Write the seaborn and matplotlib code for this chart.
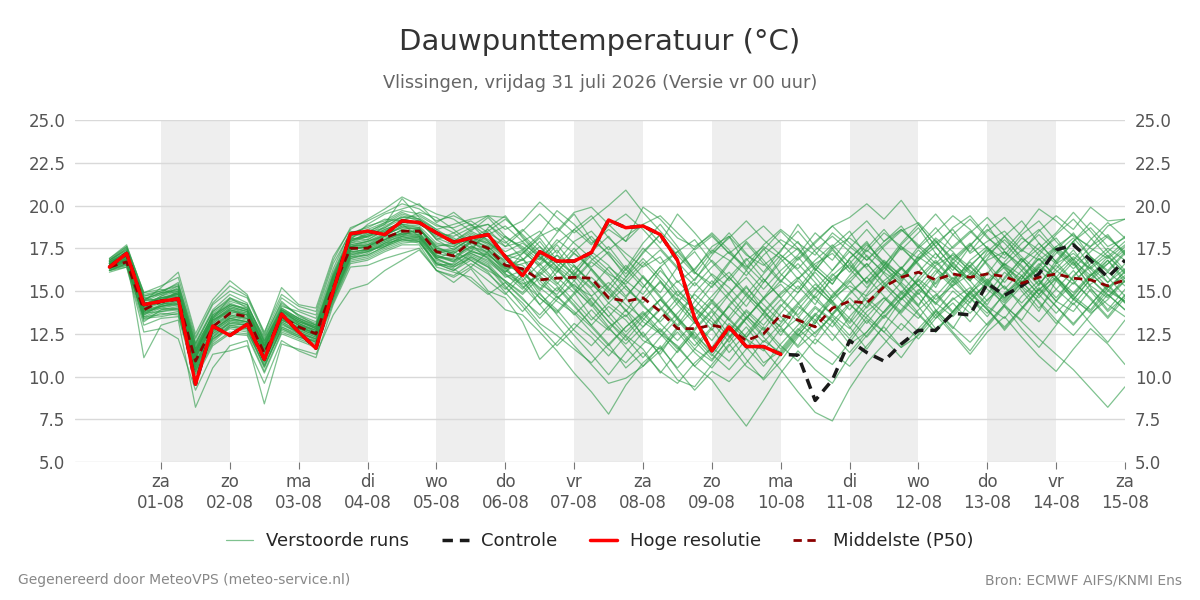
import pandas as pd
import numpy as np
import matplotlib
matplotlib.use("Agg")
import matplotlib.pyplot as plt
from matplotlib.lines import Line2D
import seaborn as sns

# tijdstappen: elke 6 uur vanaf 31-07 06:00 t/m 15-08 00:00
tijden = pd.date_range("2026-07-31 06:00", periods=60, freq="6h")

hoge_resolutie = [16.4, 17.2, 14.2, 14.4, 14.55, 9.55, 12.95, 12.4, 13.05, 11.0,
                  13.65, 12.6, 11.65, 15.0, 18.35, 18.5, 18.3, 19.1, 19.0, 18.4,
                  17.85, 18.1, 18.3, 17.0, 15.9, 17.3, 16.75, 16.75, 17.25, 19.15,
                  18.7, 18.8, 18.3, 16.8, 13.4, 11.5, 12.9, 11.75, 11.75, 11.3]

controle = hoge_resolutie + [11.25, 8.6, 9.8, 12.1, 11.4, 10.9, 11.9, 12.7, 12.7, 13.7,
                             13.6, 15.45, 14.75, 15.3, 16.0, 17.4, 17.7, 16.8, 15.8, 16.8]

middelste = [16.4, 16.7, 13.9, 14.4, 14.5, 10.9, 12.9, 13.7, 13.5, 11.35,
             13.5, 12.9, 12.5, 15.2, 17.5, 17.5, 18.1, 18.5, 18.5, 17.3,
             17.05, 17.9, 17.5, 16.5, 16.3, 15.65, 15.75, 15.8, 15.75, 14.6,
             14.4, 14.6, 13.8, 12.8, 12.8, 13.0, 12.8, 12.1, 12.5, 13.6,
             13.3, 12.9, 14.0, 14.4, 14.3, 15.25, 15.8, 16.1, 15.65, 16.0,
             15.8, 16.0, 15.85, 15.45, 15.8, 16.0, 15.75, 15.65, 15.3, 15.65]

run_01 = [16.8, 17.4, 14.6, 14.8, 15.3, 11.8, 13.5, 14.2, 13.9, 11.9, 14.0, 13.4, 12.9, 16.0, 18.2, 18.6, 19.0, 19.6, 19.2, 18.0,
          18.4, 18.9, 18.2, 17.6, 17.9, 18.5, 17.2, 18.6, 19.4, 18.1, 17.2, 16.4, 17.0, 15.5, 16.3, 17.4, 16.8, 15.9, 17.1, 18.0,
          17.4, 16.2, 17.5, 18.1, 17.3, 18.4, 17.6, 16.9, 17.8, 18.6, 17.2, 17.9, 18.5, 17.4, 16.8, 17.6, 18.3, 17.5, 16.9, 17.7]
run_02 = [16.2, 16.6, 13.2, 13.9, 14.1, 10.4, 12.1, 13.0, 12.8, 10.6, 12.9, 12.4, 12.0, 14.6, 16.9, 17.2, 17.8, 18.0, 18.1, 16.6,
          16.2, 17.0, 16.4, 15.2, 14.3, 13.1, 12.4, 11.6, 10.8, 11.9, 10.5, 11.4, 10.3, 9.6, 10.8, 11.7, 10.9, 12.2, 11.5, 12.8,
          11.7, 12.6, 13.5, 12.4, 13.8, 14.6, 13.7, 14.9, 13.6, 14.5, 15.2, 14.1, 13.4, 14.7, 15.6, 14.4, 13.8, 15.1, 14.2, 13.5]
run_03 = [16.9, 17.6, 14.9, 15.1, 14.8, 11.4, 13.4, 14.6, 14.0, 12.1, 13.9, 13.1, 12.7, 15.8, 17.9, 18.3, 18.9, 20.4, 19.3, 18.6,
          18.0, 17.3, 18.7, 19.4, 18.1, 17.0, 16.3, 15.1, 14.2, 12.9, 13.6, 12.4, 11.3, 12.8, 11.6, 10.9, 12.3, 13.5, 12.7, 14.1,
          15.3, 14.2, 15.9, 16.8, 15.4, 16.3, 17.5, 16.6, 15.2, 16.9, 17.8, 16.5, 15.1, 16.2, 17.3, 18.1, 16.8, 15.9, 16.6, 17.4]
run_04 = [16.4, 16.8, 13.8, 14.0, 13.9, 9.8, 12.4, 13.1, 13.0, 10.9, 13.2, 12.6, 12.2, 14.9, 17.2, 17.5, 17.9, 18.2, 18.7, 17.1,
          16.7, 17.9, 17.2, 16.1, 16.9, 15.4, 14.8, 16.0, 17.1, 16.2, 15.1, 14.3, 15.6, 14.2, 13.1, 14.4, 15.8, 14.7, 13.6, 12.4,
          13.9, 15.1, 14.3, 13.2, 14.8, 16.1, 15.4, 14.1, 15.7, 16.5, 15.3, 14.2, 15.8, 16.9, 15.6, 14.4, 15.9, 16.8, 15.5, 16.3]
run_05 = [16.6, 17.1, 14.2, 14.6, 14.7, 11.2, 13.1, 13.8, 13.6, 11.6, 13.6, 13.0, 12.7, 15.4, 17.7, 17.9, 18.4, 18.9, 18.8, 17.8,
          17.6, 18.2, 17.7, 16.9, 15.7, 14.2, 13.0, 11.8, 10.7, 9.6, 9.9, 10.6, 11.8, 10.4, 9.2, 10.3, 9.7, 10.8, 12.1, 11.4,
          12.6, 13.7, 12.9, 14.2, 13.4, 12.6, 13.9, 15.1, 14.3, 13.5, 14.6, 15.4, 14.1, 13.3, 14.8, 15.7, 14.5, 13.8, 15.0, 14.4]
run_06 = [16.7, 17.3, 14.5, 14.4, 15.0, 11.5, 13.2, 14.0, 13.8, 11.7, 13.8, 13.3, 12.8, 15.6, 18.0, 18.9, 19.5, 19.8, 20.1, 19.0,
          19.6, 18.8, 19.4, 18.6, 19.1, 20.2, 19.3, 18.4, 19.2, 20.0, 20.9, 19.6, 18.5, 17.4, 16.2, 17.6, 18.2, 17.1, 16.5, 17.3,
          18.9, 17.6, 16.8, 18.2, 19.1, 17.9, 18.6, 17.7, 16.9, 18.3, 19.2, 18.1, 17.4, 18.5, 19.8, 19.1, 18.2, 17.6, 18.8, 19.2]
run_07 = [16.3, 16.7, 13.9, 14.1, 14.4, 10.7, 12.6, 13.3, 13.2, 11.2, 13.4, 12.8, 12.4, 15.0, 17.3, 17.4, 17.9, 18.4, 18.3, 17.0,
          16.9, 17.5, 17.1, 16.3, 16.6, 16.9, 16.2, 15.3, 14.7, 15.5, 14.6, 13.2, 12.5, 11.4, 12.7, 13.8, 12.4, 11.0, 9.8, 10.9,
          12.3, 13.1, 14.6, 15.3, 14.7, 15.6, 16.4, 15.3, 16.5, 17.1, 16.2, 15.4, 16.6, 15.9, 14.8, 16.1, 17.0, 16.3, 15.2, 15.9]
run_08 = [16.5, 17.0, 11.1, 13.0, 13.3, 8.2, 10.5, 11.8, 12.1, 8.4, 11.9, 11.6, 11.3, 13.6, 15.1, 15.4, 16.2, 16.8, 17.4, 16.2,
          15.8, 16.4, 15.6, 14.8, 15.9, 14.6, 13.8, 14.9, 13.5, 12.7, 13.9, 12.3, 13.4, 14.6, 13.2, 12.1, 13.5, 14.8, 13.9, 12.6,
          13.4, 14.7, 13.6, 12.8, 14.1, 15.3, 14.2, 13.4, 14.7, 15.8, 14.6, 13.5, 14.9, 15.6, 14.3, 13.1, 14.5, 15.7, 14.8, 13.9]
run_09 = [16.7, 17.2, 14.4, 15.2, 16.1, 12.5, 14.5, 15.6, 14.8, 12.5, 15.2, 14.2, 14.0, 17.0, 18.6, 19.2, 19.8, 20.5, 20.0, 19.5,
          19.2, 18.5, 19.3, 18.2, 17.4, 18.3, 19.7, 18.9, 17.8, 18.6, 17.9, 19.9, 19.2, 18.1, 17.6, 18.3, 17.2, 16.4, 17.7, 18.6,
          17.8, 17.1, 18.4, 17.6, 16.8, 17.9, 18.8, 17.5, 18.4, 19.4, 18.6, 17.5, 16.9, 18.1, 17.4, 16.6, 17.9, 18.7, 17.6, 18.1]
run_10 = [16.1, 16.4, 12.6, 12.8, 12.2, 9.2, 11.3, 11.5, 11.8, 9.6, 12.1, 11.5, 11.1, 14.2, 16.4, 16.5, 16.9, 17.2, 17.5, 16.2,
          15.5, 16.3, 15.0, 14.6, 13.2, 11.0, 12.0, 13.1, 12.3, 11.2, 12.4, 11.6, 10.2, 11.5, 12.6, 11.3, 10.4, 11.6, 12.9, 11.8,
          10.9, 12.2, 11.4, 10.6, 11.8, 12.9, 11.7, 12.4, 13.6, 12.5, 11.3, 12.6, 13.5, 12.3, 11.2, 10.3, 11.6, 12.8, 11.9, 10.7]
run_11 = [16.6, 17.0, 14.3, 14.5, 14.9, 11.3, 13.7, 14.4, 14.1, 12.3, 14.3, 13.6, 13.0, 15.5, 17.6, 17.8, 18.3, 18.7, 18.6, 17.6,
          17.8, 18.4, 17.9, 17.0, 17.3, 16.5, 17.4, 16.1, 15.2, 16.4, 15.6, 14.8, 16.2, 15.1, 14.0, 15.3, 16.1, 14.9, 13.8, 14.9,
          15.8, 14.6, 15.7, 16.5, 15.5, 16.7, 15.9, 16.8, 17.6, 16.4, 15.6, 16.8, 17.3, 16.5, 15.4, 16.6, 17.2, 16.3, 17.1, 16.0]
run_12 = [16.4, 16.9, 13.6, 14.2, 14.6, 10.9, 12.7, 13.5, 13.3, 11.0, 13.3, 12.9, 12.5, 15.3, 17.4, 17.7, 18.0, 18.6, 18.4, 16.9,
          17.3, 16.8, 16.2, 15.6, 14.9, 16.1, 15.3, 14.2, 13.0, 14.1, 13.3, 12.1, 11.6, 12.9, 14.0, 13.2, 12.0, 13.4, 14.6, 15.4,
          14.3, 13.1, 14.8, 15.7, 16.6, 15.4, 14.5, 15.8, 16.8, 15.7, 16.5, 17.4, 16.3, 15.2, 16.4, 17.5, 16.6, 15.3, 14.6, 15.8]
run_13 = [16.5, 16.8, 13.9, 14.3, 14.2, 10.8, 12.8, 13.4, 13.2, 11.5, 13.5, 12.7, 12.3, 15.1, 17.5, 17.6, 18.2, 18.3, 18.6, 17.5,
          17.2, 17.9, 17.6, 16.6, 16.0, 15.2, 14.4, 13.7, 12.6, 11.6, 10.8, 11.9, 12.8, 11.7, 10.6, 9.8, 8.4, 7.1, 8.6, 10.2,
          11.5, 10.4, 9.6, 11.2, 12.4, 13.6, 12.7, 13.9, 14.8, 13.7, 14.9, 15.7, 14.6, 15.5, 16.3, 15.1, 14.2, 15.4, 16.1, 15.3]
run_14 = [16.3, 16.9, 14.1, 14.7, 15.0, 11.6, 13.3, 13.9, 13.7, 11.8, 13.7, 13.2, 12.9, 15.7, 18.1, 18.0, 18.6, 19.0, 18.9, 18.3,
          17.9, 18.6, 18.9, 18.1, 17.6, 16.8, 18.0, 17.2, 16.4, 17.3, 16.2, 17.5, 16.6, 17.3, 18.0, 16.7, 15.6, 16.8, 17.6, 16.9,
          15.7, 16.6, 17.2, 16.1, 17.4, 16.5, 15.8, 17.0, 16.3, 15.5, 16.8, 17.6, 16.4, 15.7, 17.1, 16.2, 15.4, 16.6, 17.5, 16.8]
run_15 = [16.2, 16.5, 13.5, 13.6, 13.8, 10.1, 11.9, 12.6, 12.5, 10.3, 12.6, 12.2, 11.8, 14.4, 16.7, 16.9, 17.4, 17.8, 17.9, 16.4,
          16.1, 15.8, 14.9, 13.9, 13.6, 12.6, 11.5, 10.2, 9.1, 7.8, 9.5, 10.8, 11.7, 10.5, 11.6, 12.8, 11.4, 12.5, 13.7, 12.9,
          14.1, 13.3, 12.1, 13.5, 14.6, 13.7, 14.8, 15.6, 14.5, 15.3, 16.0, 15.1, 14.3, 15.5, 16.4, 15.8, 14.7, 13.9, 15.2, 16.1]
run_16 = [16.8, 17.5, 14.7, 14.9, 15.5, 12.0, 13.9, 14.8, 14.3, 12.0, 14.1, 13.8, 13.4, 16.3, 18.5, 18.1, 18.8, 19.3, 19.4, 18.8,
          18.7, 19.1, 18.4, 17.8, 18.6, 17.6, 16.7, 17.9, 18.5, 17.4, 18.2, 18.9, 17.8, 19.5, 18.4, 17.2, 18.1, 19.1, 18.0, 17.1,
          16.3, 17.4, 18.2, 17.3, 16.4, 17.6, 18.5, 19.0, 17.9, 16.8, 17.7, 18.6, 17.8, 16.7, 17.5, 18.4, 19.6, 18.5, 17.3, 18.2]
run_17 = [16.4, 16.7, 13.7, 13.8, 14.0, 10.5, 12.3, 13.2, 13.1, 10.8, 13.1, 12.5, 12.2, 14.7, 17.0, 17.3, 17.7, 18.1, 18.2, 16.8,
          16.5, 17.2, 16.7, 15.9, 15.4, 15.9, 16.8, 16.0, 15.1, 13.8, 12.6, 13.6, 14.5, 13.5, 12.3, 11.2, 12.6, 13.8, 12.8, 11.6,
          12.8, 11.9, 13.2, 14.3, 13.1, 14.4, 15.5, 14.6, 13.4, 14.6, 13.7, 14.8, 16.1, 15.2, 14.0, 15.1, 16.2, 15.0, 13.8, 14.7]
run_18 = [16.9, 17.7, 14.8, 15.0, 15.4, 12.2, 14.2, 15.0, 14.6, 12.4, 14.6, 13.9, 13.6, 16.6, 18.4, 18.7, 19.2, 19.1, 19.6, 19.3,
          18.6, 17.8, 18.5, 19.2, 18.3, 17.3, 16.4, 15.6, 16.7, 15.9, 14.7, 15.8, 14.6, 13.4, 14.9, 16.0, 15.2, 14.1, 15.5, 16.7,
          17.5, 16.3, 15.4, 16.9, 17.8, 16.6, 15.7, 16.9, 18.1, 17.3, 16.1, 15.3, 16.7, 17.8, 18.6, 17.4, 16.5, 17.6, 18.3, 17.1]
run_19 = [16.6, 17.2, 14.4, 14.6, 14.8, 11.1, 13.0, 13.7, 13.5, 11.3, 13.6, 13.1, 12.6, 15.4, 17.6, 17.7, 18.3, 18.8, 18.7, 17.4,
          17.0, 17.6, 17.3, 16.4, 16.2, 14.8, 13.9, 12.7, 11.8, 12.9, 11.7, 10.6, 11.5, 12.6, 11.4, 10.5, 11.8, 12.9, 11.6, 10.4,
          9.1, 7.9, 7.4, 9.3, 10.8, 11.9, 13.1, 12.2, 13.4, 14.3, 13.2, 14.5, 15.3, 14.1, 13.2, 14.4, 15.5, 14.6, 13.5, 14.8]
run_20 = [16.5, 16.9, 14.0, 14.5, 14.7, 11.0, 12.9, 13.6, 13.4, 11.5, 13.4, 12.9, 12.5, 15.2, 17.6, 17.5, 18.0, 18.6, 18.4, 17.2,
          17.4, 18.1, 17.8, 17.1, 16.8, 17.9, 16.6, 15.7, 16.8, 17.6, 16.3, 15.2, 16.4, 17.3, 16.1, 15.4, 16.7, 17.8, 16.6, 15.5,
          16.9, 17.9, 18.8, 19.3, 20.1, 19.2, 20.3, 18.9, 17.6, 18.7, 19.4, 18.2, 17.1, 18.3, 19.1, 17.9, 16.8, 18.0, 19.0, 18.1]
run_21 = [16.7, 17.1, 14.3, 14.2, 14.5, 11.3, 13.2, 13.9, 13.6, 11.5, 13.3, 12.8, 12.6, 15.3, 17.8, 18.2, 18.4, 18.9, 18.2, 17.0,
          16.8, 17.3, 17.0, 16.0, 15.1, 16.2, 17.1, 16.4, 15.5, 14.3, 13.5, 14.6, 15.5, 14.4, 13.3, 14.5, 13.4, 12.3, 13.7, 14.8,
          15.6, 14.5, 13.6, 14.9, 15.8, 16.8, 15.9, 14.8, 16.0, 17.2, 16.4, 15.5, 14.6, 15.9, 16.9, 15.8, 14.9, 16.0, 15.1, 14.4]
run_22 = [16.4, 16.6, 13.3, 13.7, 13.6, 10.2, 12.0, 12.9, 12.7, 10.5, 12.8, 12.3, 12.1, 14.5, 16.8, 17.0, 17.5, 17.9, 18.0, 16.5,
          16.6, 17.4, 16.9, 15.8, 16.2, 15.0, 16.1, 17.2, 16.3, 15.2, 14.2, 13.4, 12.6, 13.7, 14.8, 13.9, 14.9, 15.8, 14.6, 13.5,
          12.4, 13.6, 14.7, 15.6, 14.4, 13.4, 14.6, 15.7, 14.9, 13.8, 15.0, 16.1, 15.2, 14.3, 15.4, 16.5, 15.6, 14.5, 13.4, 14.6]
run_23 = [16.6, 17.3, 14.5, 14.9, 15.1, 11.7, 13.6, 14.3, 13.9, 11.8, 13.9, 13.3, 12.9, 15.8, 18.0, 18.3, 18.5, 19.1, 19.0, 18.1,
          17.7, 18.2, 17.4, 16.8, 17.2, 18.2, 18.7, 17.8, 16.9, 16.0, 15.4, 16.5, 17.4, 16.3, 15.3, 16.4, 17.3, 16.2, 15.1, 16.2,
          17.1, 18.4, 17.5, 16.3, 17.5, 18.6, 17.4, 18.4, 19.5, 18.3, 17.3, 18.5, 19.3, 18.2, 17.1, 18.3, 19.2, 18.1, 17.0, 17.9]
run_24 = [16.3, 16.8, 13.7, 14.1, 14.3, 10.6, 12.5, 13.1, 13.0, 11.1, 13.0, 12.6, 12.1, 14.8, 17.1, 17.4, 17.6, 18.0, 17.8, 16.7,
          16.3, 15.6, 14.8, 15.5, 14.5, 13.6, 14.7, 13.8, 12.9, 11.8, 12.9, 13.8, 12.7, 11.6, 12.8, 13.9, 12.9, 11.7, 10.6, 11.9,
          13.0, 14.1, 13.3, 12.2, 13.5, 14.6, 13.6, 12.6, 13.8, 15.0, 14.1, 13.0, 14.2, 15.3, 14.4, 13.3, 12.4, 13.6, 14.8, 13.9]
run_25 = [16.8, 17.4, 14.6, 14.4, 14.9, 11.4, 13.4, 14.1, 13.8, 11.8, 13.8, 13.2, 12.8, 15.6, 17.9, 18.4, 18.7, 19.4, 19.1, 18.4,
          18.2, 18.7, 18.9, 17.9, 16.9, 15.9, 15.0, 16.2, 17.3, 16.5, 15.3, 14.1, 13.2, 14.3, 15.5, 14.4, 13.3, 14.5, 15.7, 14.6,
          13.6, 14.8, 16.0, 15.1, 14.0, 15.2, 16.4, 15.3, 14.3, 15.6, 16.7, 15.6, 14.5, 15.7, 16.9, 15.8, 14.7, 15.9, 17.0, 16.1]
run_26 = [16.5, 17.0, 14.1, 14.4, 14.6, 11.1, 12.9, 13.5, 13.4, 11.4, 13.5, 13.0, 12.4, 15.1, 17.4, 17.6, 18.1, 18.4, 18.3, 17.3,
          17.5, 18.0, 17.6, 16.7, 16.5, 15.6, 14.6, 15.4, 14.3, 13.2, 12.3, 11.1, 12.3, 13.4, 12.4, 11.5, 12.7, 13.9, 13.0, 14.2,
          13.2, 12.3, 13.7, 14.8, 15.8, 14.7, 13.8, 15.0, 16.2, 15.2, 14.3, 15.6, 16.6, 15.5, 14.6, 15.8, 16.9, 15.7, 14.7, 15.6]
run_27 = [16.7, 17.2, 14.2, 14.7, 15.2, 11.9, 13.8, 14.5, 14.2, 12.2, 14.4, 13.5, 13.1, 15.9, 18.2, 18.4, 19.0, 19.3, 19.2, 18.5,
          18.1, 17.5, 18.3, 18.8, 17.9, 16.9, 17.8, 18.6, 17.7, 18.8, 19.5, 18.6, 17.5, 16.4, 17.5, 18.4, 17.4, 16.3, 17.4, 18.5,
          17.5, 16.5, 15.6, 16.6, 17.7, 16.7, 15.6, 16.8, 17.9, 16.9, 16.0, 17.1, 18.0, 17.0, 16.1, 17.2, 18.1, 17.0, 16.2, 17.3]
run_28 = [16.2, 16.6, 13.4, 13.5, 13.7, 10.3, 12.2, 12.8, 12.6, 10.7, 12.7, 12.3, 11.9, 14.6, 17.0, 17.1, 17.6, 18.2, 17.9, 16.6,
          16.4, 17.0, 16.5, 15.3, 14.1, 12.9, 11.8, 12.8, 13.9, 12.8, 11.9, 12.9, 14.0, 12.9, 11.8, 12.9, 14.1, 13.1, 12.0, 13.1,
          14.2, 15.2, 14.2, 13.1, 14.3, 15.4, 16.3, 15.3, 14.2, 15.4, 16.5, 15.4, 14.4, 15.5, 16.6, 15.6, 14.5, 15.7, 16.8, 15.5]
run_29 = [16.6, 16.9, 14.0, 14.4, 14.6, 11.2, 13.1, 13.9, 13.6, 11.6, 13.7, 13.1, 12.7, 15.4, 17.7, 17.9, 18.3, 18.7, 18.6, 17.7,
          17.6, 18.3, 17.8, 17.0, 17.4, 16.4, 15.4, 16.5, 15.5, 14.6, 15.8, 16.9, 15.8, 14.7, 15.7, 16.8, 15.8, 14.8, 16.0, 17.1,
          16.2, 15.1, 16.2, 17.3, 16.3, 15.2, 16.3, 17.4, 16.4, 15.3, 16.4, 17.5, 16.5, 15.4, 16.5, 17.6, 16.7, 15.6, 16.6, 17.6]
run_30 = [16.4, 16.7, 13.8, 14.1, 14.2, 10.6, 12.6, 13.3, 13.1, 11.1, 13.2, 12.7, 12.3, 15.0, 17.3, 17.4, 17.8, 18.2, 18.1, 17.1,
          16.8, 17.2, 16.8, 16.0, 15.5, 14.6, 13.7, 14.8, 15.8, 14.9, 13.9, 12.9, 13.9, 15.0, 14.0, 13.0, 14.1, 15.2, 14.2, 13.2,
          14.3, 15.4, 14.4, 13.4, 12.3, 13.5, 14.6, 13.6, 12.6, 13.8, 14.9, 13.9, 12.9, 14.0, 15.1, 14.1, 13.1, 14.2, 15.3, 14.3]
run_31 = [16.5, 17.0, 14.0, 14.6, 14.8, 11.2, 13.3, 14.0, 13.7, 11.7, 13.9, 13.3, 12.8, 15.5, 17.8, 18.0, 18.5, 18.9, 18.7, 17.6,
          17.1, 16.4, 17.3, 18.2, 17.5, 16.6, 17.7, 16.5, 15.4, 14.5, 15.6, 16.7, 15.6, 14.5, 13.6, 14.7, 15.8, 16.9, 15.7, 14.6,
          15.7, 16.8, 17.7, 16.6, 15.5, 16.5, 17.6, 16.5, 15.4, 16.6, 17.7, 16.6, 15.5, 16.7, 17.8, 16.7, 15.6, 16.4, 17.3, 16.2]
run_32 = [16.3, 16.5, 13.5, 13.9, 14.0, 10.4, 12.3, 13.0, 12.9, 10.9, 12.9, 12.5, 12.0, 14.7, 17.1, 17.3, 17.7, 18.1, 18.0, 16.9,
          16.4, 16.9, 16.4, 15.6, 14.8, 15.8, 14.7, 13.6, 14.6, 13.5, 12.4, 13.5, 14.5, 15.6, 14.5, 13.4, 12.3, 13.4, 14.5, 15.6,
          16.6, 15.5, 14.4, 15.5, 16.6, 15.5, 14.5, 15.6, 16.7, 15.6, 14.6, 13.7, 14.8, 15.9, 14.8, 13.7, 14.8, 15.9, 16.8, 15.7]
run_33 = [16.6, 17.2, 14.5, 14.9, 15.0, 11.6, 13.6, 14.2, 14.0, 12.0, 14.0, 13.4, 13.0, 15.9, 18.1, 18.5, 18.9, 19.5, 19.2, 18.6,
          18.9, 19.2, 19.4, 19.3, 18.2, 17.1, 18.4, 19.5, 18.0, 17.2, 15.8, 17.3, 18.3, 16.7, 15.6, 17.1, 18.2, 16.5, 15.5, 16.9,
          17.9, 16.3, 15.4, 16.9, 17.9, 16.4, 15.5, 17.1, 18.0, 16.6, 15.7, 17.3, 18.2, 16.8, 16.0, 17.4, 18.4, 17.0, 16.1, 17.2]
run_34 = [16.4, 16.8, 13.8, 14.2, 14.4, 10.8, 12.7, 13.4, 13.2, 11.2, 13.3, 12.8, 12.4, 15.1, 17.4, 17.6, 18.0, 18.3, 18.2, 17.2,
          17.0, 17.6, 17.2, 16.2, 15.6, 16.6, 15.5, 14.4, 13.3, 14.3, 15.3, 14.2, 13.1, 12.1, 13.2, 14.3, 13.3, 12.3, 13.4, 14.5,
          13.5, 12.5, 13.6, 14.6, 13.6, 12.6, 11.7, 12.8, 13.9, 12.9, 12.0, 13.1, 14.2, 13.2, 12.2, 11.3, 10.4, 9.3, 8.2, 9.4]
run_35 = [16.7, 17.5, 14.7, 15.0, 15.3, 11.9, 13.8, 14.6, 14.2, 12.1, 14.2, 13.6, 13.2, 16.1, 18.3, 18.8, 19.1, 19.7, 19.5, 18.9,
          18.4, 17.7, 16.9, 16.1, 17.2, 18.1, 16.8, 15.9, 17.3, 18.2, 16.9, 15.8, 14.9, 16.4, 17.3, 15.9, 14.8, 16.2, 17.5, 16.0,
          15.1, 16.4, 17.6, 18.5, 17.0, 16.1, 17.7, 18.7, 17.2, 16.2, 17.6, 18.9, 17.3, 16.4, 15.3, 16.8, 17.9, 16.4, 15.5, 16.6]
run_36 = [16.2, 16.4, 13.0, 13.4, 13.5, 9.9, 11.8, 12.5, 12.4, 10.2, 12.5, 12.1, 11.7, 14.3, 16.6, 16.8, 17.3, 17.7, 17.7, 16.2,
          15.9, 16.6, 16.0, 15.1, 16.1, 17.2, 15.8, 14.9, 16.3, 15.1, 13.8, 15.2, 16.4, 14.8, 13.9, 12.7, 14.2, 15.3, 13.8, 12.9,
          11.8, 13.3, 14.4, 12.9, 11.6, 13.0, 14.5, 15.4, 13.9, 12.8, 14.4, 15.5, 16.4, 15.0, 13.8, 15.6, 16.7, 15.2, 13.9, 15.1]
run_37 = [16.6, 17.0, 14.2, 14.6, 14.9, 11.5, 13.4, 14.1, 13.8, 11.8, 13.8, 13.2, 12.8, 15.6, 17.9, 18.2, 18.6, 19.0, 19.1, 18.0,
          17.4, 18.1, 18.6, 17.6, 18.5, 19.5, 18.5, 19.6, 19.9, 18.9, 17.9, 18.9, 19.4, 18.4, 17.4, 18.2, 17.2, 18.0, 18.8, 17.8,
          16.8, 17.8, 18.8, 17.8, 16.8, 17.7, 18.6, 17.6, 16.6, 17.6, 18.5, 17.5, 16.5, 17.4, 18.3, 17.3, 16.3, 17.3, 18.2, 17.2]
run_38 = [16.5, 16.8, 13.7, 14.1, 14.3, 10.7, 12.7, 13.4, 13.2, 11.2, 13.4, 12.8, 12.4, 15.0, 17.4, 17.6, 18.0, 18.4, 18.2, 17.0,
          16.7, 17.3, 17.1, 16.4, 15.3, 14.2, 15.2, 14.1, 13.0, 11.9, 12.9, 13.7, 12.5, 11.8, 10.6, 11.7, 13.1, 12.2, 10.8, 11.5,
          12.7, 14.0, 13.2, 11.9, 12.6, 13.8, 15.0, 14.1, 12.8, 13.6, 14.8, 14.0, 12.7, 13.9, 15.1, 15.8, 14.6, 13.7, 14.5, 15.6]
run_39 = [16.8, 17.6, 14.9, 15.3, 15.8, 12.3, 14.3, 15.3, 14.7, 12.6, 14.8, 14.1, 13.8, 16.8, 18.7, 19.1, 19.6, 20.1, 19.8, 19.1,
          19.4, 18.9, 17.9, 17.1, 16.2, 15.1, 16.4, 17.5, 16.2, 15.0, 16.3, 17.8, 18.9, 17.6, 16.1, 15.2, 16.6, 17.9, 16.8, 15.6,
          14.9, 16.2, 17.4, 16.3, 15.2, 16.5, 17.8, 18.9, 17.6, 16.4, 15.6, 16.9, 18.2, 19.1, 17.8, 16.7, 17.9, 19.0, 18.1, 17.3]
run_40 = [16.3, 16.6, 13.4, 13.8, 13.9, 10.3, 12.2, 12.9, 12.8, 10.6, 12.8, 12.4, 12.0, 14.6, 16.9, 17.1, 17.6, 18.0, 17.9, 16.6,
          16.2, 16.8, 16.1, 14.9, 13.8, 14.9, 13.6, 12.4, 11.3, 10.1, 11.4, 12.6, 11.2, 9.8, 9.4, 10.7, 11.9, 10.6, 9.9, 11.3,
          12.5, 11.4, 10.7, 12.0, 13.3, 12.2, 11.1, 12.5, 13.8, 12.6, 11.5, 12.9, 14.1, 12.8, 11.7, 13.0, 14.3, 13.1, 12.0, 13.3]
run_41 = [16.6, 17.1, 14.2, 14.3, 14.6, 11.1, 13.0, 13.6, 13.4, 11.4, 13.5, 13.0, 12.5, 15.3, 17.6, 17.7, 18.2, 18.5, 18.4, 17.4,
          17.2, 17.8, 17.4, 16.5, 16.8, 17.6, 16.4, 15.2, 14.1, 15.3, 16.5, 15.4, 14.1, 13.0, 14.4, 15.6, 14.5, 13.4, 14.6, 15.9,
          17.0, 15.8, 14.6, 15.9, 17.1, 16.0, 14.9, 16.1, 17.2, 16.0, 14.8, 16.0, 17.3, 16.2, 15.0, 16.3, 17.4, 16.1, 15.0, 16.2]
run_42 = [16.4, 16.9, 13.8, 14.5, 14.8, 11.4, 13.3, 13.8, 13.6, 11.6, 13.6, 13.0, 12.6, 15.3, 17.6, 17.9, 18.2, 18.8, 18.6, 17.5,
          17.3, 17.9, 17.4, 16.3, 15.2, 16.0, 17.1, 15.9, 14.7, 13.5, 14.6, 15.9, 14.7, 13.4, 12.2, 13.5, 14.8, 13.6, 12.4, 13.7,
          14.9, 16.1, 15.0, 13.9, 15.1, 16.4, 15.3, 14.2, 15.5, 16.7, 15.6, 14.4, 15.7, 16.9, 15.7, 14.6, 15.8, 17.0, 15.8, 14.7]
run_43 = [16.7, 17.3, 14.4, 14.8, 15.1, 11.6, 13.5, 14.2, 13.9, 11.9, 13.9, 13.4, 13.0, 15.7, 18.0, 18.2, 18.7, 19.2, 19.0, 18.2,
          17.9, 18.5, 18.0, 17.3, 17.8, 17.0, 16.1, 17.3, 18.2, 17.1, 16.0, 17.2, 18.3, 17.1, 16.0, 17.3, 18.4, 17.2, 16.1, 17.4,
          18.5, 17.3, 16.2, 17.5, 18.6, 17.4, 16.3, 17.6, 18.7, 17.5, 18.4, 19.3, 18.2, 17.3, 18.5, 19.4, 18.6, 19.9, 19.1, 19.2]
run_44 = [16.5, 16.8, 13.6, 14.0, 14.2, 10.5, 12.5, 13.2, 13.0, 10.9, 13.1, 12.6, 12.2, 14.8, 17.2, 17.3, 17.8, 18.3, 18.1, 16.9,
          16.5, 17.1, 16.6, 15.5, 14.6, 13.4, 14.5, 15.6, 14.4, 13.2, 12.1, 13.3, 14.5, 13.3, 12.1, 11.0, 12.2, 13.4, 12.3, 11.2,
          12.4, 13.6, 12.5, 11.4, 12.6, 13.8, 14.9, 13.7, 12.6, 13.8, 15.0, 13.9, 12.8, 14.0, 15.2, 14.1, 13.0, 14.2, 15.4, 14.3]

runs = [run_01, run_02, run_03, run_04, run_05, run_06, run_07, run_08, run_09, run_10,
        run_11, run_12, run_13, run_14, run_15, run_16, run_17, run_18, run_19, run_20,
        run_21, run_22, run_23, run_24, run_25, run_26, run_27, run_28, run_29, run_30,
        run_31, run_32, run_33, run_34, run_35, run_36, run_37, run_38, run_39, run_40,
        run_41, run_42, run_43, run_44]

dagen = pd.date_range("2026-08-01", "2026-08-15", freq="D")
weekdag = ["ma", "di", "wo", "do", "vr", "za", "zo"]
dag_labels = [f"{weekdag[d.weekday()]}\n{d.strftime('%d-%m')}" for d in dagen]

lang = pd.DataFrame({
    "tijd": np.tile(tijden, len(runs)),
    "waarde": np.concatenate(runs),
    "run": np.repeat(np.arange(len(runs)), len(tijden)),
})

sns.set_style("white")
plt.rcParams["font.family"] = ["DejaVu Sans"]

groen = "#2a9a45"
streep = (0, (3, 2))

fig = plt.figure(figsize=(12, 6), dpi=100)
ax = fig.add_axes([0.0625, 0.23, 0.875, 0.57])

# grijze banden om de andere dag
for d in dagen[:-1:2]:
    ax.axvspan(d, d + pd.Timedelta(days=1), color="#eeeeee", zorder=0, lw=0)

sns.lineplot(data=lang, x="tijd", y="waarde", units="run", estimator=None,
             color=groen, lw=0.9, alpha=0.6, legend=False, ax=ax, zorder=2)
sns.lineplot(x=tijden, y=controle, color="#1a1a1a", lw=2.5, ax=ax, zorder=3, linestyle=streep)
sns.lineplot(x=tijden, y=middelste, color="#8b0000", lw=2, ax=ax, zorder=4, linestyle=streep)
sns.lineplot(x=tijden[:len(hoge_resolutie)], y=hoge_resolutie, color="red", lw=2.5, ax=ax, zorder=5)

ax.set_xlim(pd.Timestamp("2026-07-30 18:00"), pd.Timestamp("2026-08-15 00:00"))
ax.set_ylim(5, 25)
yt = np.arange(5, 25.1, 2.5)
ax.set_yticks(yt)
ax.set_yticklabels([f"{v:.1f}" for v in yt])
ax.set_xticks(dagen)
ax.set_xticklabels(dag_labels)
ax.set_xlabel("")
ax.set_ylabel("")
ax.grid(axis="y", color="#d9d9d9", lw=1, zorder=1)
ax.set_axisbelow(True)
for s in ax.spines.values():
    s.set_visible(False)
ax.tick_params(axis="y", labelsize=12, labelcolor="#555555", left=False, right=False,
               labelright=True, length=0, pad=7)
ax.tick_params(axis="x", labelsize=12, labelcolor="#555555", bottom=True, length=5,
               color="#777777", pad=3)

fig.text(0.5, 0.93, "Dauwpunttemperatuur (°C)", ha="center", va="center",
         fontsize=21, color="#333333")
fig.text(0.5, 0.861, "Vlissingen, vrijdag 31 juli 2026 (Versie vr 00 uur)", ha="center",
         va="center", fontsize=12.8, color="#666666")

handles = [
    Line2D([], [], color=groen, lw=0.9, alpha=0.6),
    Line2D([], [], color="#1a1a1a", lw=2.5, linestyle=streep),
    Line2D([], [], color="red", lw=2.5),
    Line2D([], [], color="#8b0000", lw=2, linestyle=streep),
]
fig.legend(handles, ["Verstoorde runs", "Controle", "Hoge resolutie", "Middelste (P50)"],
           loc="center", bbox_to_anchor=(0.5, 0.098), ncol=4, frameon=False,
           fontsize=13, handlelength=1.5, handletextpad=0.7, columnspacing=1.8)

fig.text(0.015, 0.033, "Gegenereerd door MeteoVPS (meteo-service.nl)", ha="left",
         va="center", fontsize=10, color="#888888")
fig.text(0.985, 0.033, "Bron: ECMWF AIFS/KNMI Ens", ha="right", va="center",
         fontsize=10, color="#888888")

fig.savefig("out.png", dpi=100)
